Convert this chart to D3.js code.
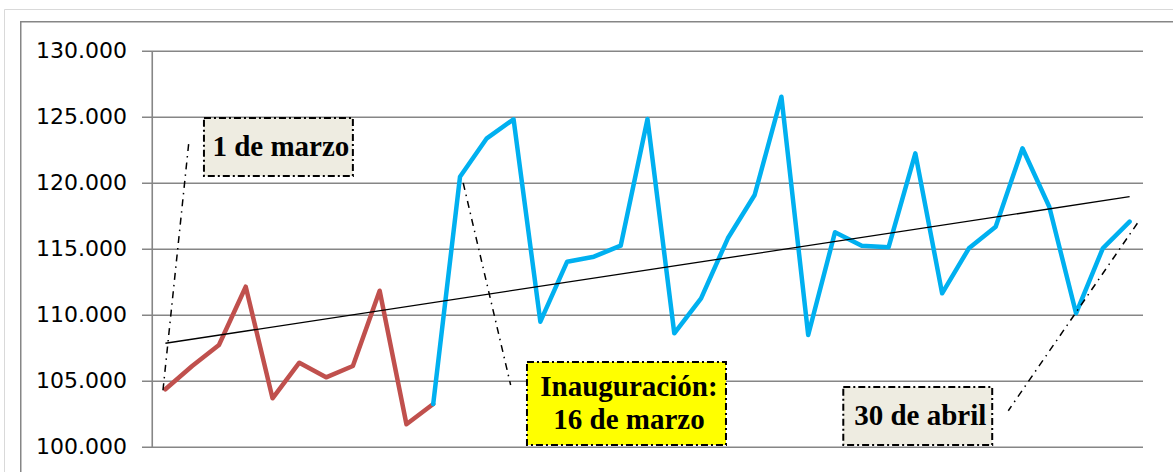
<!DOCTYPE html>
<html>
<head>
<meta charset="utf-8">
<script src="https://cdn.jsdelivr.net/npm/d3@7"></script>
<style>
  html, body { margin: 0; padding: 0; background: #ffffff; }
  svg { display: block; }
</style>
</head>
<body>
<svg id="chart" width="1173" height="472"></svg>
<script>
// ---- data ----
const categoryCount = 37;                 // daily points, 1 de marzo .. 30 de abril
const yTicks = [100000, 105000, 110000, 115000, 120000, 125000, 130000];
const yTickLabels = ["100.000", "105.000", "110.000", "115.000", "120.000", "125.000", "130.000"];

// before inauguration (index 0..10)
const redStart = 0;
const redValues = [104371, 106136, 107727, 112144, 103689, 106386, 105280, 106136, 111841, 101720, 103258];

// after inauguration (index 10..36)
const blueStart = 10;
const blueValues = [103258, 120477, 123386, 124826, 109492, 114038, 114417, 115250, 124848, 108614,
                    111265, 115811, 119091, 126538, 108485, 116265, 115250, 115129, 122250, 111644,
                    115053, 116689, 122629, 118205, 110129, 115053, 117068];

// linear trend line (start index, end index) and values
const trendIdx = [0, 36];
const trendValues = [107860, 118960];

// annotations (index units on x, values on y)
const annLabels = [["1 de marzo"], ["Inauguración:", "16 de marzo"], ["30 de abril"]];
const annFills = ["#EEECE1", "#FFFF00", "#EEECE1"];
const annBoxX = [[1.44, 7.0], [13.5, 20.93], [25.31, 30.87]];
const annBoxY = [[124924, 120530], [106439, 100152], [104545, 100152]];
const annLineX = [[-0.09, 0.88], [11.12, 12.89], [36.29, 31.47]];
const annLineY = [[104300, 123182], [120000, 104697], [116947, 102750]];

// ---- drawing ----
const svg = d3.select("#chart");

// outer frames
svg.append("path").attr("d", "M4.5,472 V9.5 H1173").attr("fill", "none")
   .attr("stroke", "#d9d9d9").attr("stroke-width", 1);
svg.append("path").attr("d", "M20.75,472 V21.75 H1173").attr("fill", "none")
   .attr("stroke", "#868686").attr("stroke-width", 1.5);

const plotLeft = 152, plotRight = 1143, plotTop = 51, plotBottom = 447;
const x = d3.scaleLinear().domain([-0.5, categoryCount - 0.5]).range([plotLeft, plotRight]);
const y = d3.scaleLinear().domain([100000, 130000]).range([plotBottom, plotTop]);

// gridlines
svg.append("g").selectAll("line").data(yTicks).join("line")
  .attr("x1", plotLeft - 10).attr("x2", plotRight)
  .attr("y1", d => Math.round(y(d)) + 0.25).attr("y2", d => Math.round(y(d)) + 0.25)
  .attr("stroke", "#868686").attr("stroke-width", 1.6);

// y axis line
svg.append("line").attr("x1", plotLeft + 0.25).attr("x2", plotLeft + 0.25)
  .attr("y1", plotTop).attr("y2", plotBottom + 1)
  .attr("stroke", "#868686").attr("stroke-width", 1.6);

// y axis labels
svg.append("g").selectAll("text").data(yTicks).join("text")
  .attr("x", 127).attr("y", d => Math.round(y(d)) + 6.5)
  .attr("text-anchor", "end")
  .attr("font-family", "'DejaVu Sans', Verdana, sans-serif")
  .attr("font-size", 22).attr("fill", "#000")
  .text((d, i) => yTickLabels[i]);

// series
const line = d3.line().x(d => x(d[0])).y(d => y(d[1])).curve(d3.curveLinear);
const redPts = redValues.map((v, i) => [redStart + i, v]);
const bluePts = blueValues.map((v, i) => [blueStart + i, v]);

svg.append("path").datum(redPts).attr("d", line).attr("fill", "none")
  .attr("stroke", "#C0504D").attr("stroke-width", 4.5).attr("stroke-linejoin", "round").attr("stroke-linecap", "round");
svg.append("path").datum(bluePts).attr("d", line).attr("fill", "none")
  .attr("stroke", "#00B0F0").attr("stroke-width", 4.5).attr("stroke-linejoin", "round").attr("stroke-linecap", "round");

// trend line
svg.append("path").datum(trendIdx.map((t, i) => [t, trendValues[i]])).attr("d", line)
  .attr("fill", "none").attr("stroke", "#000").attr("stroke-width", 1.3);

// callout lines
annLineX.forEach((lx, i) => {
  svg.append("line")
    .attr("x1", x(lx[0])).attr("y1", y(annLineY[i][0]))
    .attr("x2", x(lx[1])).attr("y2", y(annLineY[i][1]))
    .attr("stroke", "#000").attr("stroke-width", 1.5)
    .attr("stroke-dasharray", "7,5,1.5,5");
});

// annotation boxes
annLabels.forEach((lines, i) => {
  const x0 = x(annBoxX[i][0]), x1 = x(annBoxX[i][1]);
  const y0 = y(annBoxY[i][0]), y1 = y(annBoxY[i][1]);
  svg.append("rect").attr("x", x0).attr("y", y0).attr("width", x1 - x0).attr("height", y1 - y0)
    .attr("fill", annFills[i]).attr("stroke", "#000").attr("stroke-width", 2)
    .attr("stroke-dasharray", "7,3,2,3");
  const cx = (x0 + x1) / 2 + 2.5, cy = (y0 + y1) / 2;
  const lh = 33;
  const first = cy + 9 - (lines.length - 1) * lh / 2;
  lines.forEach((t, j) => {
    svg.append("text").attr("x", cx).attr("y", first + j * lh)
      .attr("text-anchor", "middle")
      .attr("font-family", "'Liberation Serif', 'Times New Roman', serif")
      .attr("font-weight", "bold").attr("font-size", 29).attr("fill", "#000")
      .text(t);
  });
});
</script>
</body>
</html>
